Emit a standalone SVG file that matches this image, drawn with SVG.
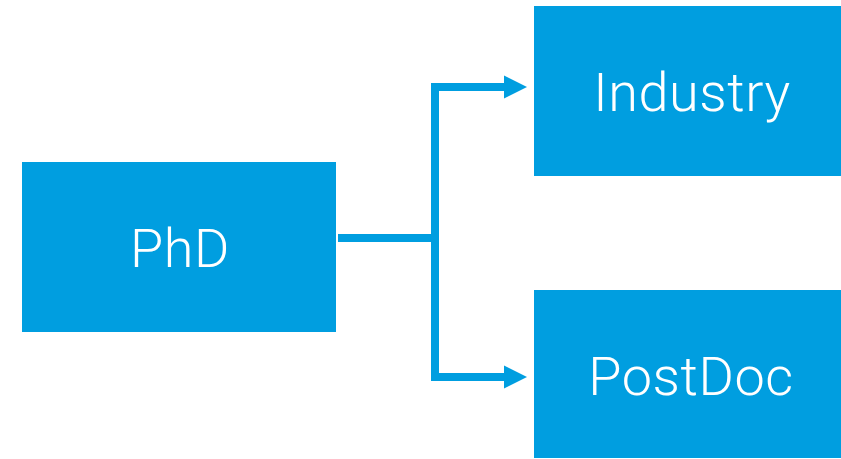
<svg xmlns="http://www.w3.org/2000/svg" width="841" height="459" viewBox="0 0 841 459">
<style>
.box{fill:#009ee0}
.lbl{font-family:Roboto,"Liberation Sans",sans-serif;font-weight:300;font-size:54px;fill:#fff;text-anchor:middle;letter-spacing:0.6px}
.ln{fill:none;stroke:#009ee0;stroke-width:8}
</style>
<defs>
<marker id="ah" markerUnits="userSpaceOnUse" markerWidth="24" markerHeight="24" refX="0" refY="12" orient="auto" viewBox="0 0 24 24">
<path d="M0,0.5 L23,12 L0,23.5 Z" fill="#009ee0"/>
</marker>
</defs>
<g id="phd"><rect class="box" x="22" y="162" width="314" height="170"/><text class="lbl" x="180" y="267">PhD</text></g>
<g id="industry"><rect class="box" x="534" y="6" width="307" height="170"/><text class="lbl" x="692" y="111">Industry</text></g>
<g id="postdoc"><rect class="box" x="534" y="290" width="307" height="168"/><text class="lbl" x="691" y="395">PostDoc</text></g>
<g id="connectors">
<path class="ln" d="M338,238 H435"/>
<path class="ln" d="M435,238 V87 H504" marker-end="url(#ah)"/>
<path class="ln" d="M435,238 V377 H504" marker-end="url(#ah)"/>
</g>
</svg>
